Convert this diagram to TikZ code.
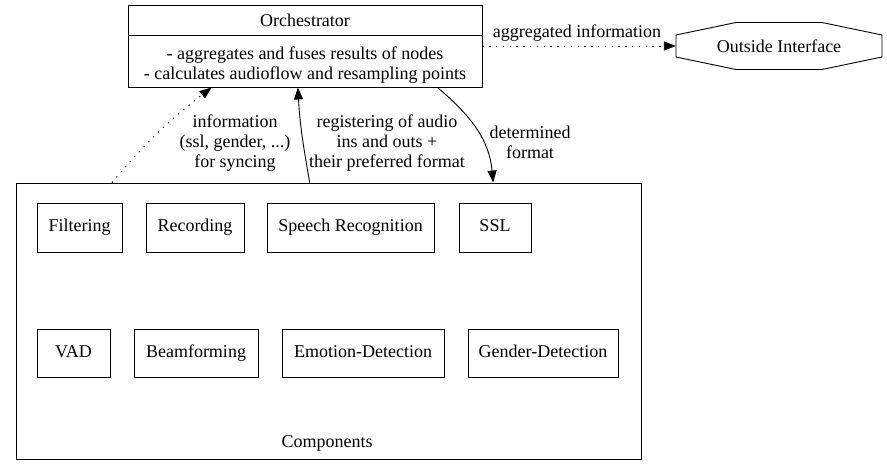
\documentclass[tikz,border=0pt]{standalone}
\usepackage{fontspec}
\setmainfont{LiberationSerif}[Extension=.ttf, UprightFont=*-Regular, BoldFont=*-Bold]
\usetikzlibrary{arrows.meta,calc}
\begin{document}
\begin{tikzpicture}[x=1pt,y=1pt,
  every node/.style={font=\fontsize{18}{20}\selectfont, inner sep=0pt},
  comp/.style={draw, line width=0.9pt, minimum height=49pt, text height=12pt, text depth=3.5pt},
  lbl/.style={align=center},
  conn/.style={line width=0.9pt, -{Triangle[length=12pt,width=9pt]}},
  dotconn/.style={conn, dash pattern=on 1.3pt off 5.5pt}]
\useasboundingbox (0,0) rectangle (887,-476);
% Orchestrator record
\node[draw, line width=0.9pt, minimum width=354pt, minimum height=82pt] (orch) at (305,-46) {};
\node (orchT) at (305,-20.5) {Orchestrator};
\draw[line width=0.9pt] ($(orch.north west)+(0,-31)$) -- ($(orch.north east)+(0,-31)$);
\node[lbl] (orchB) at (305,-65) {- aggregates and fuses results of nodes\\- calculates audioflow and resampling points};
% Outside interface
\node[minimum width=206pt, minimum height=47pt] (oi) at (779,-46) {Outside Interface};
\draw[line width=0.9pt] ($(oi.center)+(-103,11)$) -- ($(oi.center)+(-43,23.5)$) -- ($(oi.center)+(43,23.5)$) -- ($(oi.center)+(103,11)$) -- ($(oi.center)+(103,-11)$) -- ($(oi.center)+(43,-23.5)$) -- ($(oi.center)+(-43,-23.5)$) -- ($(oi.center)+(-103,-11)$) -- cycle;
% Components cluster
\node[draw, line width=0.9pt, minimum width=625pt, minimum height=276pt] (comps) at (328.5,-321) {};
\node (compsL) at (327,-443) {Components};
\node[comp, minimum width=85pt] (filt) at (79.5,-227.5) {Filtering};
\node[comp, minimum width=98pt] (rec) at (195,-227.5) {Recording};
\node[comp, minimum width=167pt] (sr) at (350.5,-227.5) {Speech Recognition};
\node[comp, minimum width=72pt] (ssl) at (495,-227.5) {SSL};
\node[comp, minimum width=73pt, minimum height=48pt] (vad) at (73.5,-353) {VAD};
\node[comp, minimum width=124pt, minimum height=48pt] (beam) at (196,-353) {Beamforming};
\node[comp, minimum width=162pt, minimum height=48pt] (emo) at (363,-353) {Emotion-Detection};
\node[comp, minimum width=150pt, minimum height=48pt] (gen) at (543,-353) {Gender-Detection};
% connectors
\draw[dotconn] (orch.east) -- (oi.west);
\node (aggL) at (577,-33) {aggregated information};
\draw[dotconn] ($(comps.north west)!0.154!(comps.north east)$) to[bend left=6] ($(orch.south west)!0.237!(orch.south east)$);
\node[lbl] (infoL) at (235,-143) {information\\(ssl, gender, ...)\\for syncing};
\draw[conn] ($(comps.north west)!0.47!(comps.north east)$) to[out=100,in=-87] ($(orch.south west)!0.48!(orch.south east)$);
\node[lbl] (regL) at (387,-143) {registering of audio\\ins and outs +\\their preferred format};
\draw[conn] ($(orch.south west)!0.873!(orch.south east)$) to[out=-40,in=95] ($(comps.north west)!0.763!(comps.north east)$);
\node[lbl] (detL) at (530,-142) {determined\\format};
\end{tikzpicture}
\end{document}
